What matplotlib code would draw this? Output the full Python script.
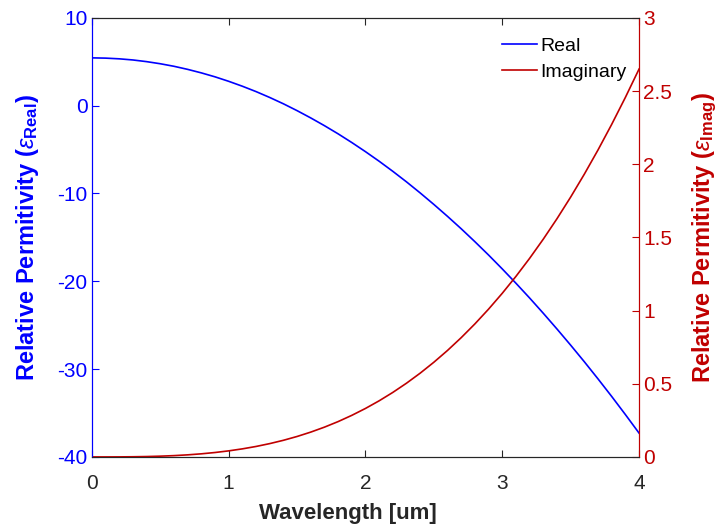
import matplotlib
matplotlib.use('Agg')
import matplotlib.pyplot as plt

plt.rcParams['font.family'] = ['Liberation Sans', 'DejaVu Sans']
plt.rcParams['axes.unicode_minus'] = False
plt.rcParams['mathtext.fontset'] = 'custom'
plt.rcParams['mathtext.rm'] = 'Liberation Sans'
plt.rcParams['mathtext.bf'] = 'Liberation Sans:bold'
plt.rcParams['mathtext.it'] = 'Liberation Sans:italic'

# values
wavelength = [0.0, 0.1, 0.2, 0.3, 0.4, 0.5, 0.6, 0.7, 0.8, 0.9,
              1.0, 1.1, 1.2, 1.3, 1.4, 1.5, 1.6, 1.7, 1.8, 1.9,
              2.0, 2.1, 2.2, 2.3, 2.4, 2.5, 2.6, 2.7, 2.8, 2.9,
              3.0, 3.1, 3.2, 3.3, 3.4, 3.5, 3.6, 3.7, 3.8, 3.9, 4.0]
eps_real = [5.44, 5.41, 5.33, 5.20, 5.01, 4.77, 4.48, 4.13, 3.73, 3.28,
            2.77, 2.21, 1.60, 0.93, 0.21, -0.57, -1.40, -2.28, -3.21, -4.20,
            -5.24, -6.33, -7.48, -8.68, -9.94, -11.25, -12.61, -14.02, -15.49, -17.01,
            -18.59, -20.22, -21.90, -23.64, -25.43, -27.27, -29.16, -31.11, -33.11, -35.17, -37.28]
eps_imag = [0.0, 0.0, 0.0003, 0.0011, 0.0026, 0.0052, 0.0089, 0.0142, 0.0212, 0.0302,
            0.0414, 0.0551, 0.0715, 0.0910, 0.1136, 0.1397, 0.1696, 0.2034, 0.2414, 0.2840,
            0.3312, 0.3834, 0.4408, 0.5037, 0.5723, 0.6469, 0.7276, 0.8149, 0.9088, 1.0097,
            1.1178, 1.2333, 1.3566, 1.4878, 1.6272, 1.7750, 1.9316, 2.0970, 2.2717, 2.4558, 2.6496]

blue = '#0000FF'
red = '#C00000'
dark = '#262626'

fig = plt.figure(figsize=(7.18, 5.24), dpi=100)
ax = fig.add_axes([0.128, 0.128, 0.762, 0.838])
ax2 = ax.twinx()

l1, = ax.plot(wavelength, eps_real, color=blue, lw=1.2, label='Real')
l2, = ax2.plot(wavelength, eps_imag, color=red, lw=1.2, label='Imaginary')

ax.set_xlim(0, 4)
ax.set_ylim(-40, 10)
ax2.set_ylim(0, 3)
ax.set_xticks([0, 1, 2, 3, 4])
ax.set_yticks([-40, -30, -20, -10, 0, 10])
ax2.set_yticks([0, 0.5, 1, 1.5, 2, 2.5, 3])
ax2.set_yticklabels(['0', '0.5', '1', '1.5', '2', '2.5', '3'])

ax.tick_params(axis='x', direction='in', top=True, colors=dark, labelsize=15, length=5, pad=12)
ax.tick_params(axis='y', direction='in', colors=blue, labelsize=15, length=5, pad=3)
ax2.tick_params(axis='y', direction='in', colors=red, labelsize=15, length=5, pad=3)

for a in (ax, ax2):
    a.spines['top'].set_color(dark)
    a.spines['bottom'].set_color(dark)
    a.spines['left'].set_color(blue)
    a.spines['right'].set_color(red)

ax.set_xlabel('Wavelength [um]', fontsize=16, fontweight='bold', color=dark)
ax.xaxis.set_label_coords(0.468, -0.105)
ax.set_ylabel(r'Relative Permitivity ($\epsilon_{\mathbf{Real}}$)', fontsize=17,
              fontweight='bold', color=blue, labelpad=12)
ax2.set_ylabel(r'Relative Permitivity ($\epsilon_{\mathbf{Imag}}$)', fontsize=17,
               fontweight='bold', color=red, labelpad=13)

ax2.legend(handles=[l1, l2], loc='upper right', bbox_to_anchor=(0.9916, 0.9736),
           borderaxespad=0, frameon=False, fontsize=14,
           handlelength=1.85, handletextpad=0.15, labelspacing=0.45)

fig.savefig('out.png', dpi=100)
